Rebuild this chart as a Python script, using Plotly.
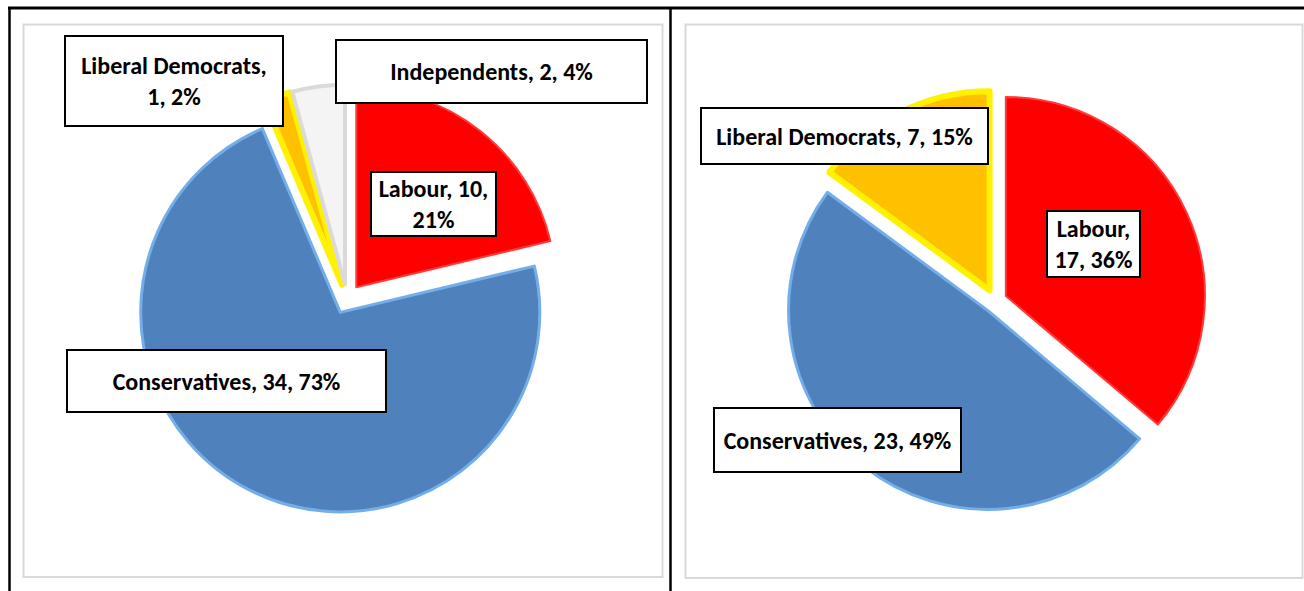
import plotly.graph_objects as go

W, H = 1304, 591

# ---- data ----
left_parties = ["Labour", "Conservatives", "Liberal Democrats", "Independents"]
left_seats = [10, 34, 1, 2]
left_pcts = ["21%", "73%", "2%", "4%"]

right_parties = ["Labour", "Conservatives", "Liberal Democrats"]
right_seats = [17, 23, 7]
right_pcts = ["36%", "49%", "15%"]

party_fill = {"Labour": "#FF0000", "Conservatives": "#4F81BD",
              "Liberal Democrats": "#FFC000", "Independents": "#F4F4F4"}
party_edge = {"Labour": "#FF3B3B", "Conservatives": "#74AEEA",
              "Liberal Democrats": "#FFF200", "Independents": "#DADADA"}
party_edge_w = {"Labour": 2, "Conservatives": 3, "Liberal Democrats": 6, "Independents": 4}


def px_x(x):
    return x / W


def px_y(y):
    return 1 - y / H


def domain(cx, cy, half):
    return dict(x=[px_x(cx - half), px_x(cx + half)],
                y=[px_y(cy + half), px_y(cy - half)])


fig = go.Figure()

fig.add_trace(go.Pie(
    labels=left_parties, values=left_seats, sort=False, direction="clockwise",
    rotation=0, pull=0.075, textinfo="none", hoverinfo="skip", showlegend=False,
    marker=dict(colors=[party_fill[p] for p in left_parties],
                line=dict(color=[party_edge[p] for p in left_parties],
                          width=[party_edge_w[p] for p in left_parties])),
    domain=domain(347, 299, 214.5),
))

fig.add_trace(go.Pie(
    labels=right_parties, values=right_seats, sort=False, direction="clockwise",
    rotation=0, pull=0.06, textinfo="none", hoverinfo="skip", showlegend=False,
    marker=dict(colors=[party_fill[p] for p in right_parties],
                line=dict(color=[party_edge[p] for p in right_parties],
                          width=[party_edge_w[p] for p in right_parties])),
    domain=domain(995, 301, 211),
))

# ---- frame: table borders and chart areas ----
shapes = [
    dict(type="line", xref="paper", yref="paper", x0=px_x(8), x1=1.0,
         y0=px_y(8), y1=px_y(8), line=dict(color="black", width=3)),
    dict(type="line", xref="paper", yref="paper", x0=px_x(9.5), x1=px_x(9.5),
         y0=px_y(8), y1=0, line=dict(color="black", width=2.5)),
    dict(type="line", xref="paper", yref="paper", x0=px_x(670.5), x1=px_x(670.5),
         y0=px_y(8), y1=0, line=dict(color="black", width=2.5)),
    dict(type="rect", xref="paper", yref="paper", x0=px_x(23.5), x1=px_x(662.5),
         y0=px_y(577), y1=px_y(24.5), line=dict(color="#D9D9D9", width=2), layer="below"),
    dict(type="rect", xref="paper", yref="paper", x0=px_x(685.5), x1=px_x(1302.5),
         y0=px_y(578), y1=px_y(24.5), line=dict(color="#D9D9D9", width=2), layer="below"),
]

# ---- data labels (boxes) ----
label_font = dict(family="Calibri, Carlito, Lato, sans-serif", size=24, color="black", weight="bold")


def label_text(party, seats, pct, split):
    if split == 1:
        return f"{party},<br>{seats}, {pct}"
    if split == 2:
        return f"{party}, {seats},<br>{pct}"
    return f"{party}, {seats}, {pct}"


left_label_layout = {
    "Labour": (433.5, 204, 127, 66, 2),
    "Conservatives": (226.5, 381, 321, 64, 0),
    "Liberal Democrats": (174, 81, 220, 92, 1),
    "Independents": (491.5, 71.5, 313, 65, 0),
}
right_label_layout = {
    "Labour": (1093.5, 244, 95, 68, 1),
    "Conservatives": (837.5, 440, 249, 66, 0),
    "Liberal Democrats": (844.5, 136, 289, 58, 0),
}

annotations = []
for parties, seats, pcts, lay in [(left_parties, left_seats, left_pcts, left_label_layout),
                                  (right_parties, right_seats, right_pcts, right_label_layout)]:
    for p, s, pc in zip(parties, seats, pcts):
        cx, cy, bw, bh, split = lay[p]
        annotations.append(dict(
            text=label_text(p, s, pc, split), x=px_x(cx), y=px_y(cy),
            xref="paper", yref="paper", xanchor="center", yanchor="middle",
            showarrow=False, font=label_font, align="center",
            width=bw - 4, height=bh - 4, borderpad=0,
            bgcolor="white", bordercolor="black", borderwidth=2,
        ))

fig.update_layout(
    width=W, height=H, margin=dict(l=0, r=0, t=0, b=0),
    paper_bgcolor="white", plot_bgcolor="white",
    shapes=shapes, annotations=annotations, showlegend=False,
)

fig.write_html("out.html", config={"displayModeBar": False},
               post_script="document.body.style.margin='0';document.body.style.overflow='hidden';")
